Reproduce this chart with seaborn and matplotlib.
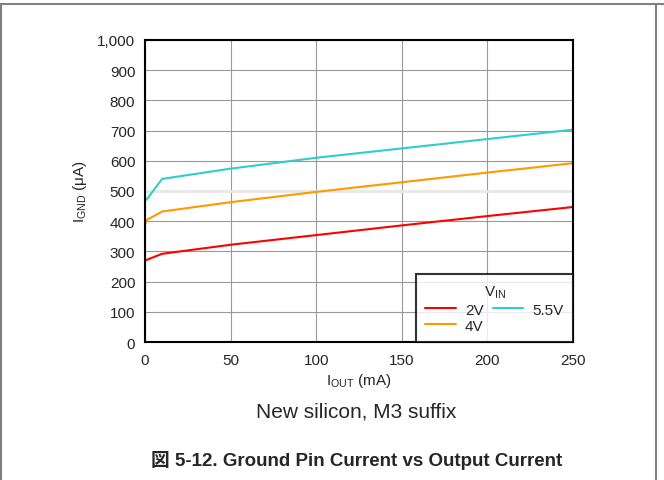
import pandas as pd
import matplotlib.pyplot as plt
import seaborn as sns

# values
iout = [0, 1, 10, 50, 100, 150, 200, 250]
ignd_2v = [268, 272, 292, 322, 354, 386, 417, 447]
ignd_4v = [388, 404, 432, 463, 497, 529, 561, 592]
ignd_55v = [468, 472, 540, 574, 610, 641, 672, 703]
series = ['2V', '4V', '5.5V']
colors = ['#ff0000', '#ff9900', '#33cccc']

data = pd.DataFrame({
    'IOUT': iout * 3,
    'IGND': ignd_2v + ignd_4v + ignd_55v,
    'VIN': [s for s in series for _ in iout],
})

sns.set_style('white')
plt.rcParams['font.family'] = ['Liberation Sans', 'Noto Sans CJK JP', 'DejaVu Sans']

fig = plt.figure(figsize=(6.64, 4.81), dpi=100)
ax = fig.add_axes([0.2184, 0.2869, 0.6446, 0.6279])

sns.lineplot(data=data, x='IOUT', y='IGND', hue='VIN', palette=colors,
             linewidth=1.5, ax=ax)

ax.set_xlim(0, 250)
ax.set_ylim(0, 1000)
ax.set_xticks(range(0, 251, 50))
ax.set_yticks(range(0, 1001, 100))
ax.set_yticklabels([f'{v:,}' for v in range(0, 1001, 100)])
ax.tick_params(labelsize=11, length=0)
ax.tick_params(axis='x', pad=8)
ax.tick_params(axis='y', pad=7)
ax.grid(True, color='#999999', linewidth=0.8)
ax.axhline(500, color='#e8e8e8', linewidth=2, zorder=1.5)
for s in ax.spines.values():
    s.set_color('black')
    s.set_linewidth(1.5)

ax.set_xlabel(r'I$_{\mathregular{OUT}}$ (mA)', fontsize=11, labelpad=3)
ax.set_ylabel(r'I$_{\mathregular{GND}}$ ($\mathregular{\mu}$A)', fontsize=11, labelpad=6)

handles, labels = ax.get_legend_handles_labels()
leg = ax.legend(handles, labels, title=r'V$_{\mathregular{IN}}$', ncol=2,
                loc='lower right', fontsize=11, title_fontsize=11,
                frameon=True, fancybox=False, borderaxespad=0,
                handlelength=2.0, handletextpad=0.6, columnspacing=0.6,
                labelspacing=0.15, borderpad=0.6)
leg.get_frame().set_edgecolor('black')
leg.get_frame().set_linewidth(1.5)

fig.text(0.536, 0.143, 'New silicon, M3 suffix', ha='center', va='center', fontsize=15)
fig.text(0.537, 0.043, '図 5-12. Ground Pin Current vs Output Current', ha='center',
         va='center', fontsize=13.5, fontweight='bold')

# page frame
fig.add_artist(plt.Line2D([0.0, 1.0], [0.989, 0.989], color='#808080', linewidth=1.5))
fig.add_artist(plt.Line2D([0.002, 0.002], [0.0, 0.989], color='#808080', linewidth=1.5))
fig.add_artist(plt.Line2D([0.988, 0.988], [0.0, 0.989], color='#808080', linewidth=1.5))

fig.savefig('out.png', dpi=100)
